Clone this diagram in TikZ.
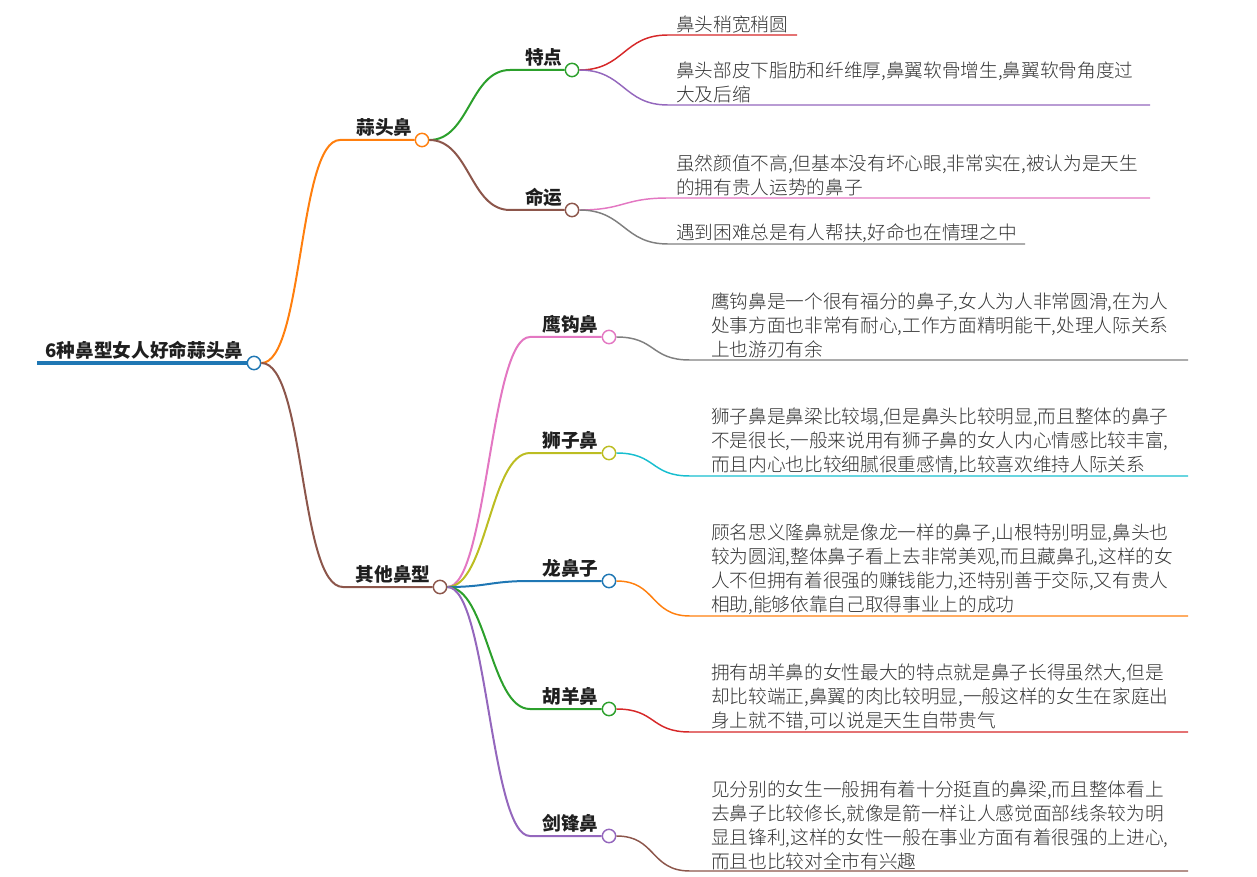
\documentclass[tikz,border=0pt]{standalone}
\usepackage{fontspec}
\setmainfont{Noto Sans CJK SC}
\newfontfamily\leaffont{Noto Sans CJK SC Light}
\definecolor{cBlue}{HTML}{1F77B4}
\definecolor{cOrange}{HTML}{FF7F0E}
\definecolor{cGreen}{HTML}{2CA02C}
\definecolor{cRed}{HTML}{D62728}
\definecolor{cPurple}{HTML}{9467BD}
\definecolor{cBrown}{HTML}{8C564B}
\definecolor{cPink}{HTML}{E377C2}
\definecolor{cGray}{HTML}{7F7F7F}
\definecolor{cOlive}{HTML}{BCBD22}
\definecolor{cCyan}{HTML}{17BECF}
\begin{document}
\begin{tikzpicture}[x=0.75pt,y=-0.75pt,
  every node/.style={font=\fontsize{14pt}{18pt}\selectfont,text=black!80},
  hub/.style={circle,draw=#1,fill=white,line width=1.1pt,minimum size=10pt,inner sep=0pt},
  title/.style={font=\fontsize{14pt}{18pt}\selectfont\bfseries,text=black!88,anchor=south east,inner sep=1pt},
  leaf/.style={font=\fontsize{14pt}{18pt}\leaffont,align=left,anchor=south west,inner xsep=0pt,inner ysep=1pt},
  branch/.style={draw=#1,line width=1.5pt},
  twig/.style={draw=#1,line width=1.1pt}]
  \useasboundingbox (0,0) rectangle (1257,877);
  % 根节点
  \node[hub=cBlue] (root) at (254,363) {};
  \coordinate (root-s) at (37,363);
  \node[title] (root-t) at (245,361) {6种鼻型女人好命蒜头鼻};
  \draw[cBlue,line width=3pt] (root-s) -- (root.west);
  % 第一层
  \node[hub=cOrange] (suantou) at (422,140) {};
  \coordinate (suantou-s) at (340,140);
  \node[title] (suantou-t) at (414,138) {蒜头鼻};
  \node[hub=cBrown] (qita) at (440,587) {};
  \coordinate (qita-s) at (343,587);
  \node[title] (qita-t) at (432,585) {其他鼻型};
  \draw[branch=cOrange] (root.east) .. controls +(42,0) and +(-42,0) .. (suantou-s) -- (suantou.west);
  \draw[branch=cBrown] (root.east) .. controls +(44,0) and +(-44,0) .. (qita-s) -- (qita.west);
  % 蒜头鼻
  \node[hub=cGreen] (tedian) at (572,70) {};
  \coordinate (tedian-s) at (510,70);
  \node[title] (tedian-t) at (564,68) {特点};
  \node[hub=cBrown] (mingyun) at (572,210) {};
  \coordinate (mingyun-s) at (510,210);
  \node[title] (mingyun-t) at (564,208) {命运};
  \draw[branch=cGreen] (suantou.east) .. controls +(40,0) and +(-40,0) .. (tedian-s) -- (tedian.west);
  \draw[branch=cBrown] (suantou.east) .. controls +(40,0) and +(-40,0) .. (mingyun-s) -- (mingyun.west);
  \coordinate (t1-s) at (668,35);   \coordinate (t1-e) at (797,35);
  \coordinate (t2-s) at (668,105);  \coordinate (t2-e) at (1150,105);
  \coordinate (m1-s) at (668,198);  \coordinate (m1-e) at (1150,198);
  \coordinate (m2-s) at (668,244);  \coordinate (m2-e) at (1025,244);
  \draw[twig=cRed] (tedian.east) .. controls +(45,0) and +(-45,0) .. (t1-s) -- (t1-e);
  \draw[twig=cPurple] (tedian.east) .. controls +(45,0) and +(-45,0) .. (t2-s) -- (t2-e);
  \draw[twig=cPink] (mingyun.east) .. controls +(45,0) and +(-45,0) .. (m1-s) -- (m1-e);
  \draw[twig=cGray] (mingyun.east) .. controls +(45,0) and +(-45,0) .. (m2-s) -- (m2-e);
  \node[leaf] (t1) at (676,35) {鼻头稍宽稍圆};
  \node[leaf] (t2) at (676,105) {鼻头部皮下脂肪和纤维厚,鼻翼软骨增生,鼻翼软骨角度过\\大及后缩};
  \node[leaf] (m1) at (676,198) {虽然颜值不高,但基本没有坏心眼,非常实在,被认为是天生\\的拥有贵人运势的鼻子};
  \node[leaf] (m2) at (676,244) {遇到困难总是有人帮扶,好命也在情理之中};
  % 其他鼻型
  \node[hub=cPink] (yinggou) at (609,337) {};
  \node[hub=cOlive] (shizi) at (609,453) {};
  \node[hub=cBlue] (long) at (609,581) {};
  \node[hub=cGreen] (huyang) at (609,709) {};
  \node[hub=cPurple] (jianfeng) at (609,836) {};
  \coordinate (yinggou-s) at (530,337);
  \coordinate (shizi-s) at (530,453);
  \coordinate (long-s) at (530,581);
  \coordinate (huyang-s) at (530,709);
  \coordinate (jianfeng-s) at (530,836);
  \node[title] (yinggou-t) at (600,335) {鹰钩鼻};
  \node[title] (shizi-t) at (600,451) {狮子鼻};
  \node[title] (long-t) at (600,579) {龙鼻子};
  \node[title] (huyang-t) at (600,707) {胡羊鼻};
  \node[title] (jianfeng-t) at (600,834) {剑锋鼻};
  \draw[branch=cPink] (qita.east) .. controls +(40,0) and +(-40,0) .. (yinggou-s) -- (yinggou.west);
  \draw[branch=cOlive] (qita.east) .. controls +(40,0) and +(-40,0) .. (shizi-s) -- (shizi.west);
  \draw[branch=cBlue] (qita.east) .. controls +(40,0) and +(-40,0) .. (long-s) -- (long.west);
  \draw[branch=cGreen] (qita.east) .. controls +(40,0) and +(-40,0) .. (huyang-s) -- (huyang.west);
  \draw[branch=cPurple] (qita.east) .. controls +(40,0) and +(-40,0) .. (jianfeng-s) -- (jianfeng.west);
  \coordinate (y1-s) at (690,360);  \coordinate (y1-e) at (1188,360);
  \coordinate (s1-s) at (690,476);  \coordinate (s1-e) at (1188,476);
  \coordinate (l1-s) at (690,616);  \coordinate (l1-e) at (1188,616);
  \coordinate (h1-s) at (690,732);  \coordinate (h1-e) at (1188,732);
  \coordinate (j1-s) at (690,871);  \coordinate (j1-e) at (1188,871);
  \draw[twig=cGray] (yinggou.east) .. controls +(40,0) and +(-40,0) .. (y1-s) -- (y1-e);
  \draw[twig=cCyan] (shizi.east) .. controls +(40,0) and +(-40,0) .. (s1-s) -- (s1-e);
  \draw[twig=cOrange] (long.east) .. controls +(40,0) and +(-40,0) .. (l1-s) -- (l1-e);
  \draw[twig=cRed] (huyang.east) .. controls +(40,0) and +(-40,0) .. (h1-s) -- (h1-e);
  \draw[twig=cBrown] (jianfeng.east) .. controls +(40,0) and +(-40,0) .. (j1-s) -- (j1-e);
  \node[leaf] (y1) at (711,360) {鹰钩鼻是一个很有福分的鼻子,女人为人非常圆滑,在为人\\处事方面也非常有耐心,工作方面精明能干,处理人际关系\\上也游刃有余};
  \node[leaf] (s1) at (711,476) {狮子鼻是鼻梁比较塌,但是鼻头比较明显,而且整体的鼻子\\不是很长,一般来说用有狮子鼻的女人内心情感比较丰富,\\而且内心也比较细腻很重感情,比较喜欢维持人际关系};
  \node[leaf] (l1) at (711,616) {顾名思义隆鼻就是像龙一样的鼻子,山根特别明显,鼻头也\\较为圆润,整体鼻子看上去非常美观,而且藏鼻孔,这样的女\\人不但拥有着很强的赚钱能力,还特别善于交际,又有贵人\\相助,能够依靠自己取得事业上的成功};
  \node[leaf] (h1) at (711,732) {拥有胡羊鼻的女性最大的特点就是鼻子长得虽然大,但是\\却比较端正,鼻翼的肉比较明显,一般这样的女生在家庭出\\身上就不错,可以说是天生自带贵气};
  \node[leaf] (j1) at (711,871) {见分别的女生一般拥有着十分挺直的鼻梁,而且整体看上\\去鼻子比较修长,就像是箭一样让人感觉面部线条较为明\\显且锋利,这样的女性一般在事业方面有着很强的上进心,\\而且也比较对全市有兴趣};
\end{tikzpicture}
\end{document}
